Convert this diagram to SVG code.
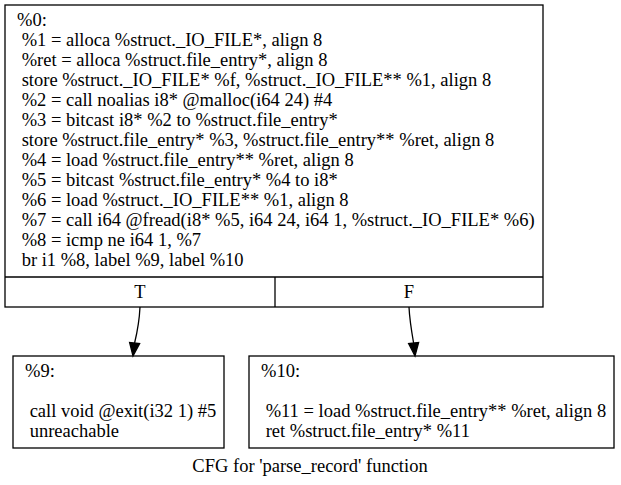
<svg xmlns="http://www.w3.org/2000/svg" width="621" height="485" viewBox="0 0 621 485">
<style>
text{font-family:"Liberation Serif","Times New Roman",serif;font-size:18.5px;fill:#000;white-space:pre}
.box{fill:#fff;stroke:#000;stroke-width:1.3}
.edge{fill:none;stroke:#000;stroke-width:1.3}
.head{fill:#000;stroke:#000;stroke-width:1.3}
.mid{text-anchor:middle}
</style>
<rect width="621" height="485" fill="#fff"/>
<g id="node0">
<rect class="box" x="5" y="5" width="538" height="302"/>
<line class="edge" x1="5" y1="277" x2="543" y2="277"/>
<line class="edge" x1="275" y1="277" x2="275" y2="307"/>
<text x="17" y="26">%0:</text>
<text x="17" y="46"> %1 = alloca %struct._IO_FILE*, align 8</text>
<text x="17" y="66"> %ret = alloca %struct.file_entry*, align 8</text>
<text x="17" y="86"> store %struct._IO_FILE* %f, %struct._IO_FILE** %1, align 8</text>
<text x="17" y="106"> %2 = call noalias i8* @malloc(i64 24) #4</text>
<text x="17" y="126"> %3 = bitcast i8* %2 to %struct.file_entry*</text>
<text x="17" y="146"> store %struct.file_entry* %3, %struct.file_entry** %ret, align 8</text>
<text x="17" y="166"> %4 = load %struct.file_entry** %ret, align 8</text>
<text x="17" y="186"> %5 = bitcast %struct.file_entry* %4 to i8*</text>
<text x="17" y="206"> %6 = load %struct._IO_FILE** %1, align 8</text>
<text x="17" y="226"> %7 = call i64 @fread(i8* %5, i64 24, i64 1, %struct._IO_FILE* %6)</text>
<text x="17" y="246"> %8 = icmp ne i64 1, %7</text>
<text x="17" y="266"> br i1 %8, label %9, label %10</text>
<text class="mid" x="140" y="298">T</text>
<text class="mid" x="409" y="298">F</text>
</g>
<g id="node9">
<rect class="box" x="13" y="356" width="211" height="92"/>
<text x="25" y="377">%9:</text>
<text x="25" y="417"> call void @exit(i32 1) #5</text>
<text x="25" y="437"> unreachable</text>
</g>
<g id="node10">
<rect class="box" x="249" y="356" width="365" height="92"/>
<text x="261" y="377">%10:</text>
<text x="261" y="417"> %11 = load %struct.file_entry** %ret, align 8</text>
<text x="261" y="437"> ret %struct.file_entry* %11</text>
</g>
<g id="edges">
<path class="edge" d="M140,307 C139.5,318 137.5,331 134.6,343"/>
<polygon class="head" points="139.6,343.6 133,356 129.6,342.4"/>
<path class="edge" d="M409,307 C409.5,318 411.5,331 413.6,343"/>
<polygon class="head" points="418.6,342.5 415,356 408.6,343.5"/>
</g>
<text class="mid" x="310" y="472">CFG for 'parse_record' function</text>
</svg>
